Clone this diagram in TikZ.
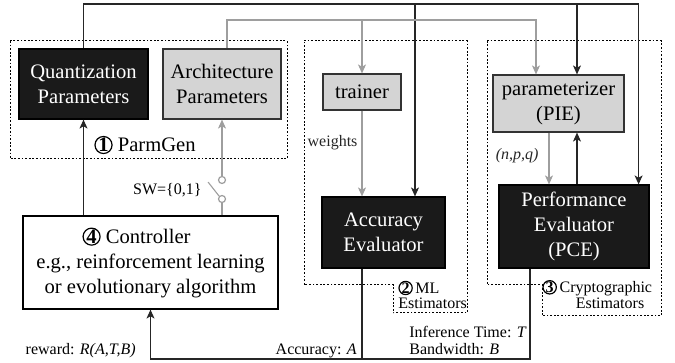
\documentclass[tikz,border=0pt]{standalone}
\usepackage{fontspec}
\setmainfont{Liberation Serif}
\usetikzlibrary{positioning, calc, arrows.meta}

\definecolor{boxgray}{RGB}{212,212,212}
\definecolor{linegray}{RGB}{158,158,158}
\definecolor{boxblack}{RGB}{26,26,26}

\newcommand{\mainsz}{\fontsize{10.3}{12.4}\selectfont}
\newcommand{\lblsz}{\fontsize{8}{9.5}\selectfont}
\newcommand{\cnum}[1]{\tikz[baseline=(n.base)]\node[circle,draw=black,fill=none,line width=0.6pt,inner sep=0pt,
	minimum width=0pt,minimum height=0pt,align=center](n){\bfseries #1};}

\begin{document}
\begin{tikzpicture}[x=0.5pt,y=-0.5pt,
		>={Stealth[length=4.5pt,width=4pt,inset=1.2pt]},
		darkbox/.style={draw=black,fill=boxblack,text=white,line width=0.6pt,align=center,font=\mainsz},
		greybox/.style={draw=black!80,fill=boxgray,line width=0.6pt,align=center,font=\mainsz},
		whitebox/.style={draw=black,fill=white,line width=0.6pt,align=center,font=\mainsz},
		grp/.style={draw=black,line width=0.5pt,dash pattern=on 0.9pt off 0.9pt},
		blk/.style={draw=black!85,line width=0.55pt},
		gry/.style={draw=linegray,line width=0.55pt},
		swc/.style={circle,draw=linegray,line width=0.6pt,inner sep=0pt,minimum size=3.5pt},
		lbl/.style={font=\lblsz,inner sep=1pt}]
	\useasboundingbox (0,0) rectangle (675,363);

	% groups
	\draw[grp] (10,41) rectangle (287,159);
	\draw[grp] (304,41) -- (467,41) -- (467,313) -- (393,313) -- (393,285) -- (304,285) -- cycle;
	\draw[grp] (487,41) -- (661,41) -- (661,316) -- (542,316) -- (542,285) -- (487,285) -- cycle;
	\node[font=\mainsz] (g1) at (145,145) {\cnum{1} ParmGen};
	\node[lbl,anchor=west] (g2a) at (396,288) {\cnum{2}\,ML};
	\node[lbl,anchor=west] (g2b) at (396,303) {Estimators};
	\node[lbl,anchor=west] (g3a) at (540,288) {\cnum{3}\,Cryptographic};
	\node[lbl] (g3b) at (610,303) {Estimators};

	% boxes
	\node[darkbox,minimum width=64.5pt,minimum height=35pt] (quant) at (83.5,84) {Quantization\\Parameters};
	\node[greybox,minimum width=59pt,minimum height=35pt] (arch) at (222,84) {Architecture\\Parameters};
	\node[greybox,minimum width=39pt,minimum height=18pt] (trainer) at (362,92) {trainer};
	\node[darkbox,minimum width=61.5pt,minimum height=35.5pt] (acc) at (383.5,232.5) {Accuracy\\Evaluator};
	\node[greybox,minimum width=65.5pt,minimum height=28.5pt] (pie) at (558.5,103.5) {parameterizer\\(PIE)};
	\node[darkbox,minimum width=75pt,minimum height=41.5pt] (pce) at (574,226.5) {Performance\\Evaluator\\(PCE)};
	\node[whitebox,minimum width=127.5pt,minimum height=46.5pt] (ctrl) at (150.5,262.5)
		{\cnum{4} Controller\hspace*{14pt}\\e.g., reinforcement learning\\or evolutionary algorithm};

	\coordinate (kbus) at (0,4);
	\coordinate (gbus) at (0,20);
	\coordinate (rbus) at (0,359);
	\coordinate (archout) at ($(arch.north)+(5,0)$);
	\coordinate (accin) at ($(acc.north)+(31.5,0)$);
	\coordinate (piein) at ($(pie.north)+(18.5,0)$);
	\coordinate (piegin) at ($(pie.north)+(-22.5,0)$);
	\coordinate (pieout) at ($(pie.south)+(-9.5,0)$);
	\coordinate (pcebus) at ($(pce.north east)+(-11,0)$);
	\coordinate (accout) at (acc.south -| trainer.south);
	\coordinate (pceout) at ($(pce.south)+(-44,0)$);

	% black bus
	\draw[blk,->] (quant.north) |- (kbus -| pcebus) -- (pcebus);
	\foreach \t in {accin,piein}
		\draw[blk,->] (kbus -| \t) -- (\t);
	% grey bus
	\draw[gry,->] (archout) |- (gbus -| piegin) -- (piegin);
	\draw[gry,->] (gbus -| trainer.north) -- (trainer.north);
	\draw[gry,->] (trainer.south) -- node[lbl,left=1pt,pos=0.37,text=black!85]{weights} (acc.north -| trainer.south);
	\draw[gry,->] (pieout) -- node[lbl,left=4pt,pos=0.45,text=black!85]{\itshape(n,p,q)} (pce.north -| pieout);
	\draw[blk,->] (pce.north -| piein) -- (pie.south -| piein);

	% controller and switch
	\draw[blk,->] (ctrl.north -| quant.south) -- (quant.south);
	\node[swc] (swlo) at (222,199) {};
	\node[swc] (swhi) at (222,180) {};
	\draw[gry] (ctrl.north -| swlo) -- (swlo);
	\draw[gry,->] (swhi) -- (arch.south -| swhi);
	\draw[gry] (swlo.north west) -- ++(-11,-14) coordinate (lever);
	\node[lbl,anchor=east] (sw) at (204,190) {SW=\{0,1\}};

	% reward
	\draw[blk] (pceout) |- (rbus -| accout);
	\draw[blk,->] (accout) |- (rbus -| ctrl.south) -- (ctrl.south);
	\node[lbl,anchor=base east] (racc) at (359,355) {Accuracy: \textit{A}};
	\node[lbl,anchor=base east] (rwd) at (138,355) {reward: \textit{R(A,T,B)}};
	\node[lbl,anchor=base west] (rtime) at (407,337) {Inference Time: \textit{T}};
	\node[lbl,anchor=base west] (rbw) at (407,355) {Bandwidth: \textit{B}};
\end{tikzpicture}
\end{document}
